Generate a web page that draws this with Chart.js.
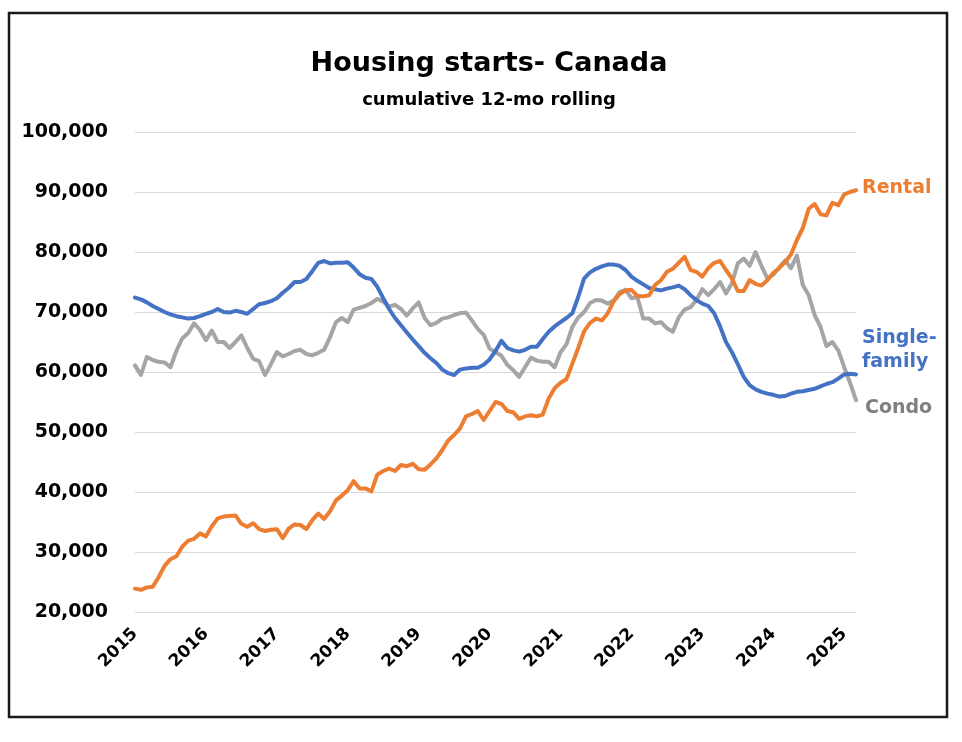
<!DOCTYPE html>
<html>
<head>
<meta charset="utf-8">
<script src="https://cdn.jsdelivr.net/npm/chart.js@4.4.1/dist/chart.umd.min.js"></script>
<style>
  html, body { margin: 0; padding: 0; background: #fff; }
  #wrap { width: 962px; height: 742px; }
</style>
</head>
<body>
<div id="wrap"><canvas id="housingChart" width="962" height="742"></canvas></div>
<script>
// monthly, Jan 2015 .. Mar 2025 (12-month rolling sums)
const startYear = 2015;
const monthCount = 123;
const yearTicks = ['2015', '2016', '2017', '2018', '2019', '2020', '2021', '2022', '2023', '2024', '2025'];

const rental = [
  23900, 23700, 24100, 24200, 25800, 27700, 28800, 29300, 30900, 31900, 32200, 33100,
  32600, 34300, 35600, 35900, 36000, 36100, 34700, 34200, 34800, 33800, 33500, 33700,
  33800, 32300, 33900, 34600, 34500, 33800, 35300, 36400, 35500, 36800, 38600, 39400,
  40300, 41800, 40600, 40600, 40100, 42900, 43500, 43900, 43500, 44500, 44300, 44700,
  43800, 43700, 44600, 45600, 47000, 48600, 49500, 50600, 52600, 53000, 53500, 52000,
  53500, 55000, 54700, 53500, 53300, 52200, 52600, 52800, 52600, 52900, 55600, 57300,
  58200, 58800, 61400, 64000, 66800, 68200, 68900, 68600, 69800, 71800, 73000, 73600,
  73700, 72700, 72600, 72800, 74500, 75300, 76700, 77200, 78200, 79200, 77000, 76700,
  75900, 77300, 78200, 78500, 77000, 75600, 73500, 73500, 75300, 74700, 74400, 75300,
  76500, 77300, 78300, 79600, 82000, 84000, 87200, 88000, 86300, 86100, 88200, 87800,
  89600, 90000, 90300
];

const singleFamily = [
  72400, 72100, 71600, 71000, 70500, 70000, 69600, 69300, 69100, 68900, 69000, 69300,
  69700, 70000, 70500, 70000, 69900, 70200, 70000, 69700, 70500, 71300, 71500, 71800,
  72300, 73200, 74000, 75000, 75000, 75500, 76800, 78200, 78500, 78100, 78200, 78200,
  78300, 77400, 76300, 75700, 75500, 74200, 72300, 70500, 69000, 67800, 66600, 65400,
  64300, 63200, 62300, 61500, 60400, 59800, 59500, 60400, 60600, 60700, 60700, 61200,
  62100, 63500, 65200, 64000, 63600, 63400, 63700, 64200, 64200, 65500, 66700, 67600,
  68300, 69000, 69800, 72500, 75600, 76600, 77200, 77600, 77900, 77900, 77700, 77000,
  75900, 75200, 74600, 74000, 73800, 73600, 73900, 74100, 74400, 73800, 72800, 72000,
  71400, 71000, 69800, 67600, 65000, 63300, 61300, 59200, 57800, 57100, 56700, 56400,
  56200, 55900, 56000, 56400, 56700, 56800, 57000, 57200, 57600, 58000, 58300, 58900,
  59600, 59700, 59600
];

const condo = [
  61100, 59500, 62500, 62000, 61700, 61600, 60800, 63500, 65600, 66500, 68100, 67000,
  65300, 66900, 65000, 65000, 64000, 65000, 66100, 64000, 62200, 61800, 59500, 61300,
  63300, 62600, 63000, 63500, 63700, 63000, 62800, 63200, 63700, 65800, 68300, 69000,
  68300, 70400, 70700, 71000, 71500, 72200, 71700, 70900, 71200, 70500, 69400, 70600,
  71600, 69000, 67800, 68200, 68900, 69100, 69500, 69800, 69900, 68600, 67200, 66200,
  63900, 63300, 62700, 61200, 60300, 59200, 60800, 62400, 61900, 61700, 61700, 60800,
  63300, 64600, 67500, 69100, 70000, 71500, 72000, 71900, 71400, 71900, 73300, 73700,
  72300, 72500, 68900, 68900, 68100, 68300, 67300, 66700, 69100, 70400, 70800, 72000,
  73800, 72800, 73800, 75000, 73100, 74800, 78100, 78900, 77700, 80000, 77700, 75600,
  76200, 77400, 78600, 77300, 79400, 74500, 72800, 69500, 67500, 64300, 65000, 63600,
  60800, 58200, 55300
];

const labels = [];
for (let i = 0; i < monthCount; i++) {
  const y = startYear + Math.floor(i / 12);
  const m = (i % 12) + 1;
  labels.push(y + '-' + (m < 10 ? '0' + m : m));
}

const FONT = "'DejaVu Sans', sans-serif";
const ORANGE = '#ED7D31';
const BLUE = '#4472C4';
const GRAY = '#A5A5A5';

// frame, title and the end-of-line labels
const decorations = {
  id: 'decorations',
  afterDraw(chart) {
    const ctx = chart.ctx;
    ctx.save();
    ctx.strokeStyle = '#1a1a1a';
    ctx.lineWidth = 2.5;
    ctx.strokeRect(9, 13, 938, 704);

    ctx.fillStyle = '#000';
    ctx.textAlign = 'center';
    ctx.textBaseline = 'middle';
    ctx.font = 'bold 27px ' + FONT;
    ctx.fillText('Housing starts- Canada', 489, 64);
    ctx.font = 'bold 18px ' + FONT;
    ctx.fillText('cumulative 12-mo rolling', 489, 100);

    const endLabel = (dsIndex, lines, dx, dy, color) => {
      const meta = chart.getDatasetMeta(dsIndex);
      const pt = meta.data[meta.data.length - 1];
      ctx.font = 'bold 19px ' + FONT;
      ctx.fillStyle = color;
      ctx.textAlign = 'left';
      lines.forEach((t, k) => ctx.fillText(t, pt.x + dx, pt.y + dy + k * 24));
    };
    endLabel(0, ['Rental'], 6, -2, ORANGE);
    endLabel(1, ['Single-', 'family'], 6, -36, BLUE);
    endLabel(2, ['Condo'], 9, 8, '#7F7F7F');
    ctx.restore();
  }
};

new Chart(document.getElementById('housingChart'), {
  type: 'line',
  data: {
    labels: labels,
    datasets: [
      { label: 'Rental', data: rental, borderColor: ORANGE },
      { label: 'Single-family', data: singleFamily, borderColor: BLUE },
      { label: 'Condo', data: condo, borderColor: GRAY }
    ]
  },
  options: {
    responsive: false,
    animation: false,
    layout: { padding: { left: 0, right: 106, top: 132, bottom: 70 } },
    elements: {
      point: { radius: 0 },
      line: { borderWidth: 4, tension: 0, borderJoinStyle: 'round', borderCapStyle: 'round' }
    },
    plugins: {
      legend: { display: false },
      tooltip: { enabled: false }
    },
    scales: {
      x: {
        offset: false,
        grid: { display: false },
        border: { display: false },
        afterFit(scale) { scale.height = 60; },
        ticks: {
          autoSkip: false,
          maxRotation: 45,
          minRotation: 45,
          padding: 4,
          color: '#000',
          font: { family: FONT, weight: 'bold', size: 17 },
          callback(val, idx) {
            return idx % 12 === 0 ? yearTicks[idx / 12] : '';
          }
        }
      },
      y: {
        min: 20000,
        max: 100000,
        grid: { color: '#D9D9D9', lineWidth: 1, drawTicks: false },
        border: { display: false },
        afterFit(scale) { scale.width = 135; },
        ticks: {
          stepSize: 10000,
          padding: 27,
          color: '#000',
          font: { family: FONT, weight: 'bold', size: 19 },
          callback(v) { return v.toLocaleString('en-US'); }
        }
      }
    }
  },
  plugins: [decorations]
});
</script>
</body>
</html>
